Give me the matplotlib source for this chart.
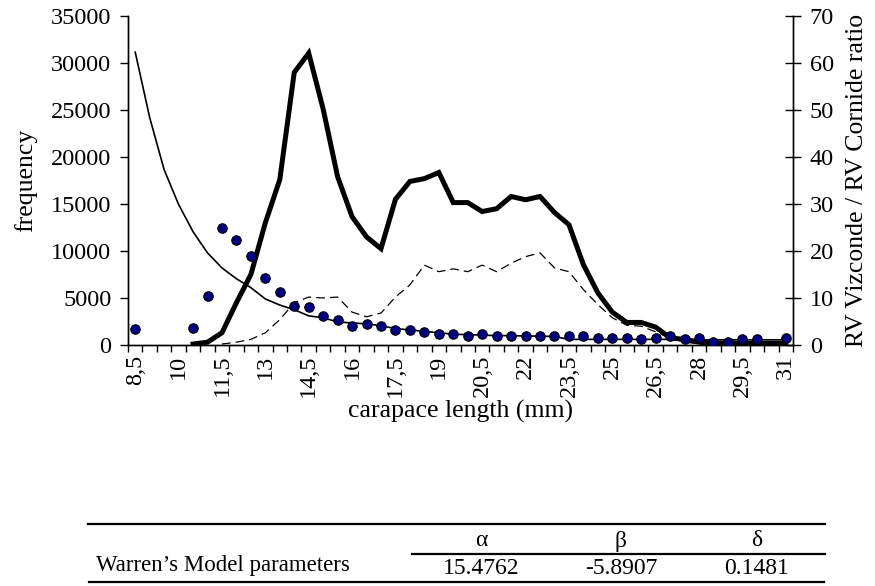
import numpy as np
import matplotlib
matplotlib.use("Agg")
import matplotlib.pyplot as plt
from matplotlib.lines import Line2D

plt.rcParams['font.family'] = ['Liberation Serif', 'DejaVu Serif']

nan = np.nan
lengths = [8.5, 9, 9.5, 10, 10.5, 11, 11.5, 12, 12.5, 13, 13.5, 14, 14.5, 15, 15.5,
           16, 16.5, 17, 17.5, 18, 18.5, 19, 19.5, 20, 20.5, 21, 21.5, 22, 22.5, 23,
           23.5, 24, 24.5, 25, 25.5, 26, 26.5, 27, 27.5, 28, 28.5, 29, 29.5, 30, 30.5, 31]
tick_labels = ["8,5", "10", "11,5", "13", "14,5", "16", "17,5", "19", "20,5", "22",
               "23,5", "25", "26,5", "28", "29,5", "31"]

freq_vizconde = [nan, nan, nan, nan, 100, 300, 1300, 4500, 7500, 13000, 17600, 29000,
                 31050, 25100, 17900, 13650, 11500, 10250, 15500, 17400, 17700, 18350,
                 15150, 15150, 14200, 14500, 15800, 15450, 15800, 14100, 12800, 8550,
                 5550, 3500, 2400, 2400, 1900, 750, 600, 300, 180, 180, 180, 180, 180, 180]
freq_cornide = [nan, nan, nan, nan, nan, nan, 100, 300, 600, 1300, 2700, 4500,
                5100, 5000, 5100, 3500, 3000, 3400, 5100, 6400, 8500, 7800,
                8100, 7800, 8500, 7800, 8700, 9400, 9800, 8200, 7800, 5900,
                4300, 2900, 2100, 2000, 1400, 750, 300, 150, 100, 100, 100, 100, 100, 100]
ratio_model = [62.3, 48.4, 37.3, 29.9, 24.1, 19.6, 16.4, 14.1, 12.2, 9.8, 8.5, 7.5,
               6.2, 5.8, 4.9, 4.7, 4.5, 4.1, 3.5, 3.2, 2.9, 2.6, 2.3, 2.2, 2.1, 2.0,
               2.0, 1.9, 1.9, 1.8, 1.2, 1.2, 1.2, 1.2, 1.2, 1.2, 1.2, 1.2, 1.2, 1.1,
               1.1, 1.1, 1.1, 1.1, 1.1, 1.1]
ratio_obs = [3.4, nan, nan, nan, 3.7, 10.5, 24.9, 22.4, 19.0, 14.3, 11.3, 8.3,
             8.0, 6.2, 5.3, 4.1, 4.5, 4.1, 3.2, 3.2, 2.8, 2.3, 2.3, 1.9, 2.3, 1.9,
             1.9, 1.9, 1.9, 1.9, 1.9, 1.9, 1.5, 1.5, 1.5, 1.3, 1.5, 1.9, 1.3, 1.5,
             0.7, 0.7, 1.3, 1.3, nan, 1.5]

param_names = ["α", "β", "δ"]
param_values = ["15.4762", "-5.8907", "0.1481"]

W, H = 875, 586
fs = 17.5
fig = plt.figure(figsize=(W / 100, H / 100), dpi=100)
ax = fig.add_axes([128 / W, 1 - 345 / H, (793 - 128) / W, (345 - 16) / H])
ax2 = ax.twinx()

x = np.arange(len(lengths))
ax.plot(x, freq_vizconde, color='black', lw=3.6, solid_joinstyle='miter', zorder=3)
ax.plot(x, freq_cornide, color='black', lw=0.9, dashes=(7, 4), zorder=2)
ax2.plot(x, ratio_model, color='black', lw=1.2, zorder=3)
ax2.plot(x, ratio_obs, linestyle='none', marker='o', markersize=6.8,
         markerfacecolor='#000080', markeredgecolor='black', markeredgewidth=0.8, zorder=4)

ax.set_xlim(-0.5, len(lengths) - 0.5)
ax.set_ylim(0, 35000)
ax2.set_ylim(0, 70)
ax.set_yticks(np.arange(0, 35001, 5000))
ax2.set_yticks(np.arange(0, 71, 10))

ax.set_xticks(x[::3])
ax.set_xticklabels(tick_labels, rotation=90, va='top', ha='center')
ax.set_xticks(np.arange(-0.5, len(lengths), 1.0), minor=True)
ax.tick_params(axis='x', which='major', length=0, pad=7, labelsize=fs)
ax.tick_params(axis='x', which='minor', length=5, width=1, direction='out')
ax.tick_params(axis='y', length=6, width=1, direction='out', labelsize=fs, pad=6)
ax2.tick_params(axis='y', length=12, width=1, direction='inout', labelsize=fs, pad=6)

for a in (ax, ax2):
    a.spines['top'].set_visible(False)
    for s in a.spines.values():
        s.set_linewidth(1.0)
ax.patch.set_visible(False)

ax.set_xlabel("carapace length (mm)", fontsize=18.5, labelpad=2)
ax.set_ylabel("frequency", fontsize=18.5, labelpad=10)
ax2.set_ylabel("RV Vizconde / RV Cornide ratio", fontsize=18.5, labelpad=9)

# Table of Warren's model parameters
def fx(px):
    return px / W

def fy(py):
    return 1 - py / H

lw_t = 1.6
fig.add_artist(Line2D([fx(88), fx(825)], [fy(524), fy(524)], color='black', lw=lw_t))
fig.add_artist(Line2D([fx(412), fx(825)], [fy(554), fy(554)], color='black', lw=lw_t))
bounds = [88, 412, 550, 688, 825]
for i in range(len(bounds) - 1):
    fig.add_artist(Line2D([fx(bounds[i] + 1), fx(bounds[i + 1] - 1)], [fy(582), fy(582)],
                          color='black', lw=lw_t))
fig.text(fx(96), fy(566), "Warren’s Model parameters", ha='left', va='center', fontsize=16.5)
centers = [481, 621, 757]
for c, n, v in zip(centers, param_names, param_values):
    fig.text(fx(c), fy(541), n, ha='center', va='center', fontsize=17)
    fig.text(fx(c), fy(568), v, ha='center', va='center', fontsize=17)

fig.savefig("out.png", dpi=100)
